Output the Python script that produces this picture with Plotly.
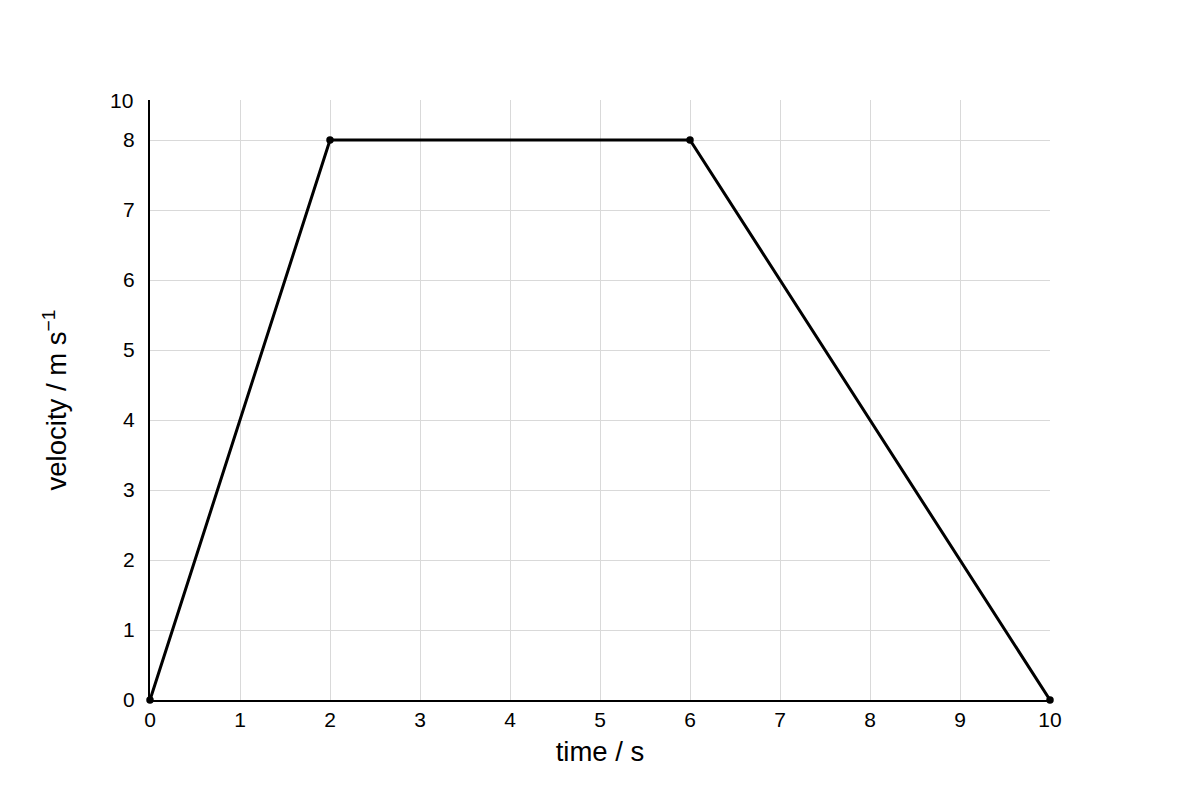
import plotly.graph_objects as go

# velocity-time data
time_s = [0, 2, 6, 10]
velocity = [0, 8, 8, 0]
x_ticks = list(range(0, 11))
y_ticks = list(range(0, 9))
y_top = 60 / 7  # axis top, labelled "10"

fig = go.Figure()
fig.add_trace(go.Scatter(
    x=time_s, y=velocity, mode="lines+markers",
    line=dict(color="black", width=3),
    marker=dict(color="black", size=7.5),
    cliponaxis=False, showlegend=False,
))

# page body has an 8px margin, so shift the figure up/left
fig.update_layout(
    width=1200, height=800,
    margin=dict(l=142, r=158, t=92, b=108),
    plot_bgcolor="white", paper_bgcolor="white",
    font=dict(family="Liberation Sans, Arial, sans-serif", color="black", size=21),
    annotations=[dict(
        text="10", x=0, y=1, xref="paper", yref="paper",
        xanchor="right", yanchor="middle", xshift=-15, showarrow=False,
        font=dict(size=21, color="black"),
    )],
)
fig.update_xaxes(
    range=[0, 10], tickvals=x_ticks, showgrid=True, gridcolor="#d9d9d9", gridwidth=1,
    showline=True, linecolor="black", linewidth=2, zeroline=False, ticks="",
    title=dict(text="time / s", font=dict(size=27.5), standoff=12),
)
fig.update_yaxes(
    range=[0, y_top], tickvals=y_ticks, showgrid=True, gridcolor="#d9d9d9", gridwidth=1,
    showline=True, linecolor="black", linewidth=2, zeroline=False, ticks="",
    ticklabelstandoff=9,
    title=dict(text="velocity / m s<sup>−1</sup>", font=dict(size=27.5), standoff=48),
)

fig.write_html("out.html")
